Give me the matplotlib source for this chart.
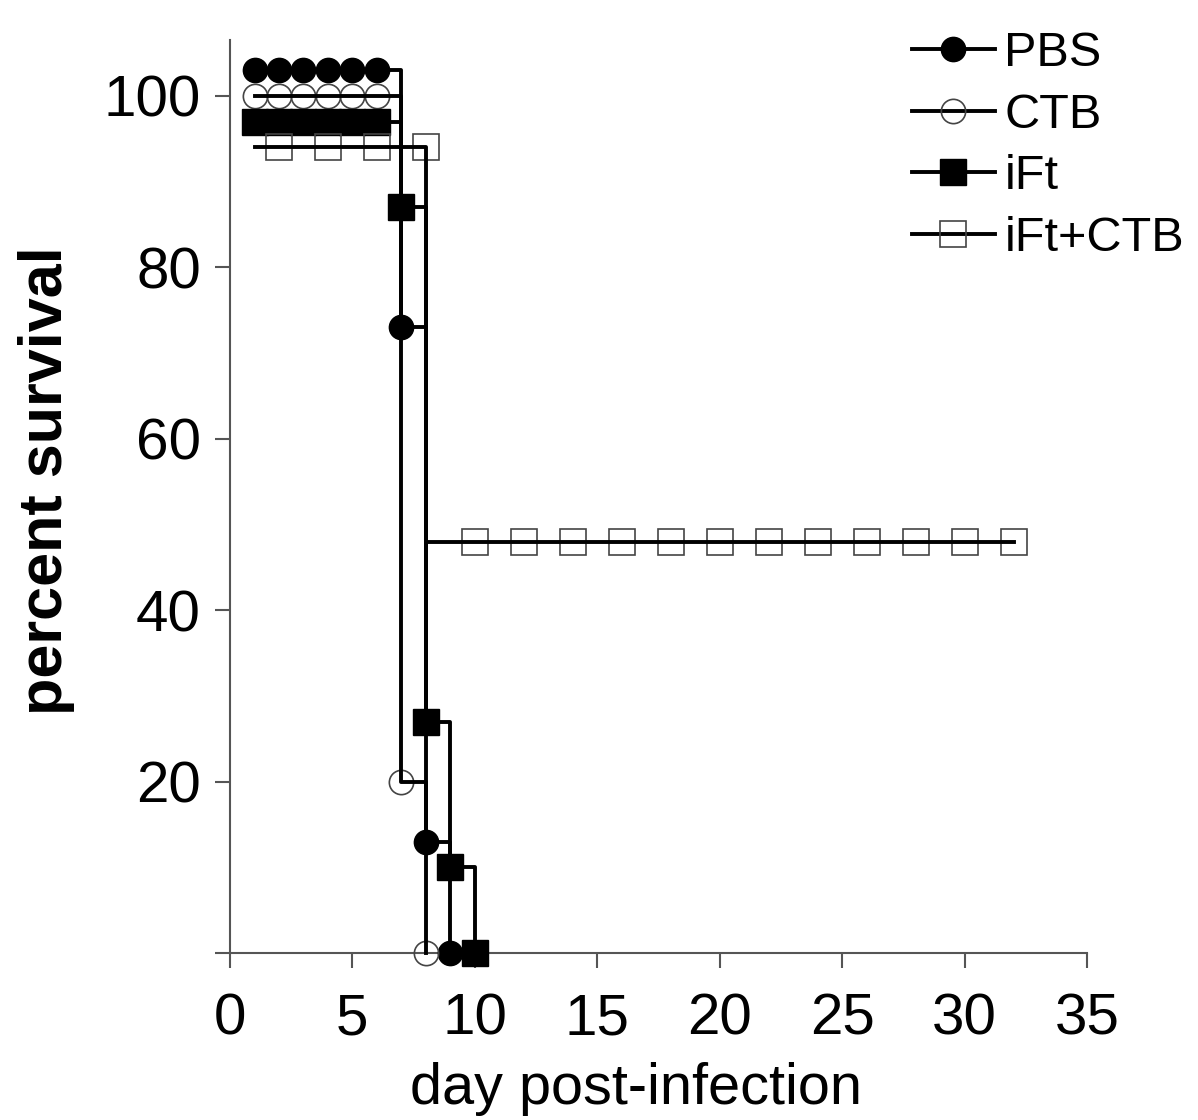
import matplotlib
matplotlib.use("Agg")
import matplotlib.pyplot as plt
from matplotlib.lines import Line2D

plt.rcParams['font.family'] = ['Liberation Sans', 'DejaVu Sans']

# step curves (day, percent survival as drawn)
pbs_days = [1, 7, 8, 9]
pbs_surv = [103, 73, 13, 0]
ctb_days = [1, 7, 8]
ctb_surv = [100, 20, 0]
ift_days = [1, 7, 8, 9, 10]
ift_surv = [97, 87, 27, 10, 0]
iftctb_days = [1, 8, 32]
iftctb_surv = [94, 48, 48]

# symbols
pbs_mk_days = [1, 2, 3, 4, 5, 6, 7, 8, 9]
pbs_mk_surv = [103, 103, 103, 103, 103, 103, 73, 13, 0]
ctb_mk_days = [1, 2, 3, 4, 5, 6, 7, 8]
ctb_mk_surv = [100, 100, 100, 100, 100, 100, 20, 0]
ift_mk_days = [1, 2, 3, 4, 5, 6, 7, 8, 9, 10]
ift_mk_surv = [97, 97, 97, 97, 97, 97, 87, 27, 10, 0]
iftctb_mk_days = [2, 4, 6, 8, 10, 12, 14, 16, 18, 20, 22, 24, 26, 28, 30, 32]
iftctb_mk_surv = [94, 94, 94, 94, 48, 48, 48, 48, 48, 48, 48, 48, 48, 48, 48, 48]

labels = ['PBS', 'CTB', 'iFt', 'iFt+CTB']
x_ticks = [0, 5, 10, 15, 20, 25, 30, 35]
y_ticks = [0, 20, 40, 60, 80, 100]
y_tick_labels = ['', '20', '40', '60', '80', '100']

fig = plt.figure(figsize=(11.98, 11.2), dpi=100)
ax = fig.add_axes([0.192, 0.149, 0.7154, 0.8152])

lw = 2.8
open_edge = '#444444'
styles = [
    dict(marker='o', mfc='black', mec='black', mew=1.0),
    dict(marker='o', mfc='none', mec=open_edge, mew=1.2),
    dict(marker='s', mfc='black', mec='black', mew=1.0),
    dict(marker='s', mfc='none', mec=open_edge, mew=1.2),
]
sizes = [17.5, 17.5, 18.5, 18.5]

curves = [
    (pbs_days, pbs_surv, pbs_mk_days, pbs_mk_surv),
    (ctb_days, ctb_surv, ctb_mk_days, ctb_mk_surv),
    (ift_days, ift_surv, ift_mk_days, ift_mk_surv),
    (iftctb_days, iftctb_surv, iftctb_mk_days, iftctb_mk_surv),
]

for (d, s, md, ms), st, sz in zip(curves, styles, sizes):
    ax.plot(md, ms, linestyle='none', ms=sz, clip_on=False, zorder=3, **st)
for d, s, md, ms in curves:
    ax.step(d, s, where='post', color='black', lw=lw, clip_on=False, zorder=4)

ax.set_xlim(0, 35)
ax.set_ylim(0, 106.5)
ax.set_xticks(x_ticks)
ax.set_yticks(y_ticks)
ax.set_yticklabels(y_tick_labels)

for side in ['top', 'right']:
    ax.spines[side].set_visible(False)
for side in ['left', 'bottom']:
    ax.spines[side].set_color('#555555')
    ax.spines[side].set_linewidth(1.5)

ax.tick_params(axis='both', direction='out', colors='#555555', width=1.5,
               length=11, pad=10, labelsize=42, labelcolor='black')
ax.tick_params(axis='x', pad=17)

fig.text(636 / 1198, 1 - 1062 / 1120, 'day post-infection', fontsize=41.5,
         ha='center', va='top')
fig.text(47 / 1198, 1 - 481 / 1120, 'percent survival', fontsize=44,
         fontweight='bold', rotation=90, ha='center', va='center')

handles = [Line2D([], [], color='black', lw=lw, ms=sz, **st)
           for st, sz in zip(styles, sizes)]
fig.legend(handles, labels, loc='upper left',
           bbox_to_anchor=(912 / 1198, 1 - 31 / 1120), frameon=False,
           fontsize=35, handlelength=1.7, handletextpad=0.2,
           labelspacing=0.34, borderpad=0, borderaxespad=0)

fig.savefig('out.png', dpi=100)
